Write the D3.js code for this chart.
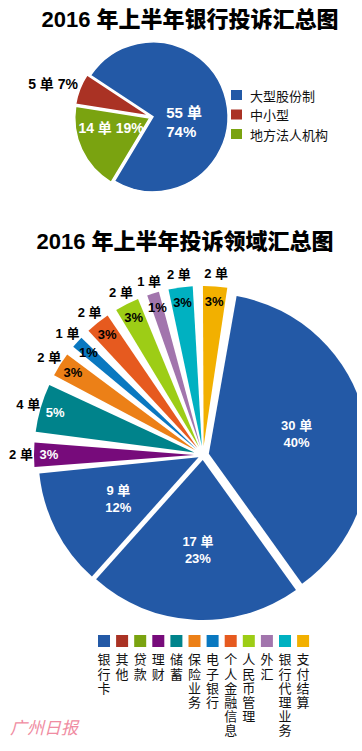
<!DOCTYPE html>
<html>
<head>
<meta charset="utf-8">
<script src="https://cdn.jsdelivr.net/npm/d3@7/dist/d3.min.js"></script>
<style>
  body { margin: 0; background: #fff; }
  svg { display: block; }
</style>
</head>
<body>
<svg id="chart" width="362" height="751"></svg>
<script>
// chart 1: complaints by bank type
const bankTypes = ["大型股份制", "中小型", "地方法人机构"];
const bankCounts = [55, 5, 14];
const bankPcts = ["74%", "7%", "19%"];
const bankColors = ["#2359a6", "#aa3224", "#7aa310"];

// chart 2: complaints by business area
const areas = ["银行卡", "其他", "贷款", "理财", "储蓄", "保险业务", "电子银行",
               "个人金融信息", "人民币管理", "外汇", "银行代理业务", "支付结算"];
const areaCounts = [30, 17, 9, 2, 4, 2, 1, 2, 2, 1, 2, 2];
const areaPcts = ["40%", "23%", "12%", "3%", "5%", "3%", "1%", "3%", "3%", "1%", "3%", "3%"];
const areaColors = ["#2359a6", "#aa3224", "#7aa310", "#770b7b", "#00838b", "#ec8017",
                    "#0a78c0", "#e65a1f", "#9dcd16", "#a275ad", "#00b1c1", "#f2b000"];
// the paper painted the three biggest slices all in the card blue
const sliceColors = ["#2359a6", "#2359a6", "#2359a6", "#770b7b", "#00838b", "#ec8017",
                     "#0a78c0", "#e65a1f", "#9dcd16", "#a275ad", "#00b1c1", "#f2b000"];

const svg = d3.select("#chart");
const deg = Math.PI / 180;
const numFont = "'Liberation Sans', 'Noto Sans CJK SC', sans-serif";
const cjkFont = "'Noto Sans CJK SC', sans-serif";

function polar(cx, cy, a, r) {
  return [cx + r * Math.sin(a), cy - r * Math.cos(a)];
}

function addTitle(x, y, text) {
  svg.append("text")
    .attr("x", x)
    .attr("y", y)
    .attr("text-anchor", "middle")
    .style("font-family", numFont)
    .style("font-weight", "900")
    .style("font-size", "22px")
    .style("fill", "#000")
    .text(text);
}

function addLabel(x, y, text, color, size) {
  svg.append("text")
    .attr("x", x)
    .attr("y", y)
    .attr("text-anchor", "middle")
    .attr("dominant-baseline", "central")
    .style("font-family", numFont)
    .style("font-weight", "bold")
    .style("font-size", (size || 13) + "px")
    .style("fill", color)
    .text(text);
}

/* ---------- chart 1 ---------- */
addTitle(190, 27, "2016 年上半年银行投诉汇总图");

const c1 = [152, 117];
const r1 = 75;
const pie1 = d3.pie().sort(null).startAngle(211 * deg).endAngle(211 * deg - 2 * Math.PI);
const arcs1 = pie1(bankCounts);
const arc1 = d3.arc().innerRadius(0).outerRadius(r1);

const g1 = svg.append("g").attr("transform", `translate(${c1[0]},${c1[1]})`);
g1.selectAll("path")
  .data(arcs1)
  .join("path")
  .attr("d", arc1)
  .attr("transform", (d, i) => {
    let mid = (d.startAngle + d.endAngle) / 2;
    let e = i == 0 ? 1 : 2.5;
    return `translate(${e * Math.sin(mid)},${-e * Math.cos(mid)})`;
  })
  .attr("fill", (d, i) => bankColors[i])
  .attr("stroke", "#fff")
  .attr("stroke-width", 1.5);

// labels
arcs1.forEach((d, i) => {
  let mid = (d.startAngle + d.endAngle) / 2;
  if (i == 0) {
    let p = polar(c1[0], c1[1], mid, 30);
    svg.append("text")
      .attr("x", p[0] - 15).attr("y", p[1] + 2)
      .attr("dominant-baseline", "central")
      .style("font-family", numFont).style("font-weight", "bold")
      .style("font-size", "15px").style("fill", "#fff")
      .text(bankCounts[i] + " 单");
    svg.append("text")
      .attr("x", p[0] - 15).attr("y", p[1] + 21)
      .attr("dominant-baseline", "central")
      .style("font-family", numFont).style("font-weight", "bold")
      .style("font-size", "15px").style("fill", "#fff")
      .text(bankPcts[i]);
  } else if (i == 1) {
    let p = polar(c1[0], c1[1], mid, 104);
    addLabel(p[0] - 2, p[1] + 5, bankCounts[i] + " 单 " + bankPcts[i], "#000", 14);
  } else {
    let p = polar(c1[0], c1[1], mid, 44);
    addLabel(p[0] - 1, p[1] - 8, bankCounts[i] + " 单 " + bankPcts[i], "#fff", 14);
  }
});

// legend 1
bankTypes.forEach((t, i) => {
  let y = 90 + i * 19.5;
  svg.append("rect")
    .attr("x", 231).attr("y", y)
    .attr("width", 11).attr("height", 10)
    .attr("fill", bankColors[i]);
  svg.append("text")
    .attr("x", 250).attr("y", y + 5)
    .attr("dominant-baseline", "central")
    .style("font-family", cjkFont)
    .style("font-size", "13px")
    .style("fill", "#111")
    .text(t);
});

/* ---------- chart 2 ---------- */
addTitle(185, 249, "2016 年上半年投诉领域汇总图");

const c2 = [203, 455];
const r2 = 160;
const start2 = 10 * deg;
const pie2 = d3.pie().sort(null)
  .startAngle(start2).endAngle(start2 + 2 * Math.PI)
  .padAngle(3 * deg);
const arcs2 = pie2(areaCounts);
const arc2 = d3.arc()
  .innerRadius(0)
  .outerRadius(r2)
  .padAngle(d => d.index < 3 ? 0 : d.padAngle);

function explodeOf(i) {
  if (i == 0) return 6;
  if (i < 3) return 5;
  return 9;
}

svg.append("defs").append("clipPath").attr("id", "clip2")
  .append("rect").attr("x", 0).attr("y", 0).attr("width", 357).attr("height", 751);

const g2 = svg.append("g").attr("clip-path", "url(#clip2)")
  .append("g").attr("transform", `translate(${c2[0]},${c2[1]})`);

g2.selectAll("path")
  .data(arcs2)
  .join("path")
  .attr("d", arc2)
  .attr("transform", (d, i) => {
    let mid = (d.startAngle + d.endAngle) / 2;
    let e = explodeOf(i);
    return `translate(${e * Math.sin(mid)},${-e * Math.cos(mid)})`;
  })
  .attr("fill", (d, i) => sliceColors[i]);

arcs2.forEach((d, i) => {
  let mid = (d.startAngle + d.endAngle) / 2;
  let apex = polar(c2[0], c2[1], mid, explodeOf(i));
  if (i < 3) {
    let p = polar(apex[0], apex[1], mid, 90);
    addLabel(p[0], p[1] - 8, areaCounts[i] + " 单", "#fff");
    addLabel(p[0], p[1] + 9, areaPcts[i], "#fff");
  } else {
    let dark = d3.hsl(sliceColors[i]).l < 0.33;
    let p = polar(apex[0], apex[1], mid, 145);
    addLabel(p[0], p[1], areaPcts[i], dark ? "#fff" : "#000");
    let q = polar(apex[0], apex[1], mid, 173);
    addLabel(q[0], q[1], areaCounts[i] + " 单", "#000");
  }
});

// legend 2, names written top to bottom
areas.forEach((t, i) => {
  let x = 98 + i * 18.1;
  svg.append("rect")
    .attr("x", x).attr("y", 635)
    .attr("width", 12).attr("height", 12)
    .attr("fill", areaColors[i]);
  svg.append("text")
    .attr("x", x + 6)
    .attr("y", 653)
    .style("writing-mode", "vertical-rl")
    .style("text-orientation", "upright")
    .style("letter-spacing", "1.2px")
    .style("font-family", cjkFont)
    .style("font-size", "13px")
    .style("fill", "#111")
    .text(t);
});

// newspaper mark
svg.append("text")
  .attr("x", 10).attr("y", 734)
  .style("font-family", cjkFont)
  .style("font-style", "italic")
  .style("font-size", "17px")
  .style("fill", "#f08ca2")
  .text("广州日报");
</script>
</body>
</html>
